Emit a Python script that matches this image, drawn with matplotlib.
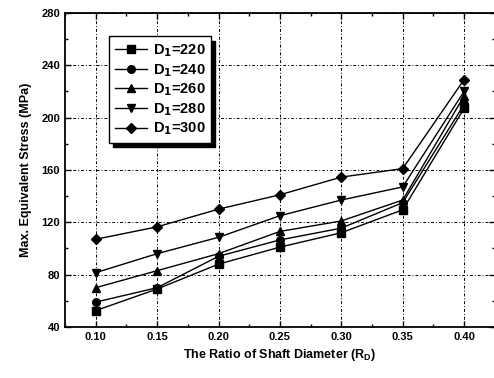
import matplotlib
matplotlib.use("Agg")
import matplotlib.pyplot as plt
from matplotlib.ticker import MultipleLocator

plt.rcParams['font.family'] = ['Liberation Sans', 'DejaVu Sans']
plt.rcParams['font.weight'] = 'bold'

ratio = [0.10, 0.15, 0.20, 0.25, 0.30, 0.35, 0.40]
d220 = [52.5, 69, 88, 101, 112, 129.5, 207]
d240 = [59, 70, 94, 106.5, 115.5, 135, 210]
d260 = [70, 83, 96, 113, 121, 137, 216.5]
d280 = [81.5, 96, 108.5, 125, 137, 147, 220]
d300 = [107, 116.5, 130, 141, 154.5, 161, 229]
labels = ['D$_1$=220', 'D$_1$=240', 'D$_1$=260', 'D$_1$=280', 'D$_1$=300']
markers = ['s', 'o', '^', 'v', 'D']
series = [d220, d240, d260, d280, d300]

fig = plt.figure(figsize=(4.94, 3.78), dpi=100)
ax = fig.add_axes([0.1316, 0.135, 0.87, 0.831])

for vals, m, lab in zip(series, markers, labels):
    ms = 5 if m == 'D' else 5.5
    ax.plot(ratio, vals, color='black', lw=1.0, marker=m, ms=ms, label=lab)

ax.set_xlim(0.075, 0.425)
ax.set_ylim(40, 280)
ax.xaxis.set_major_locator(MultipleLocator(0.05))
ax.xaxis.set_minor_locator(MultipleLocator(0.025))
ax.yaxis.set_major_locator(MultipleLocator(40))
ax.yaxis.set_minor_locator(MultipleLocator(20))
ax.set_xticks(ratio)
ax.set_xticklabels([f'{v:.2f}' for v in ratio])
ax.tick_params(which='both', direction='in', top=True, right=True, labelsize=8)
ax.tick_params(which='major', length=4, width=1)
ax.tick_params(which='minor', length=2, width=1)
for s in ax.spines.values():
    s.set_linewidth(1.3)
ax.grid(True, which='major', color='black', linestyle=(0, (3, 2, 1, 2)), lw=0.7)

ax.set_xlabel('The Ratio of Shaft Diameter (R$_\\mathregular{D}$)', fontsize=9, fontweight='bold')
ax.set_ylabel('Max. Equivalent Stress (MPa)', fontsize=9, fontweight='bold', labelpad=7)

leg = ax.legend(loc='upper left', bbox_to_anchor=(0.085, 0.948), fontsize=10.5,
                frameon=True, fancybox=False, edgecolor='black', framealpha=1,
                shadow={'color': 'black', 'alpha': 1, 'ox': 3, 'oy': -3},
                handlelength=2.2, borderpad=0.4, labelspacing=0.2, handletextpad=0.4)
leg.get_frame().set_linewidth(1.0)

fig.savefig('out.png', dpi=100)
